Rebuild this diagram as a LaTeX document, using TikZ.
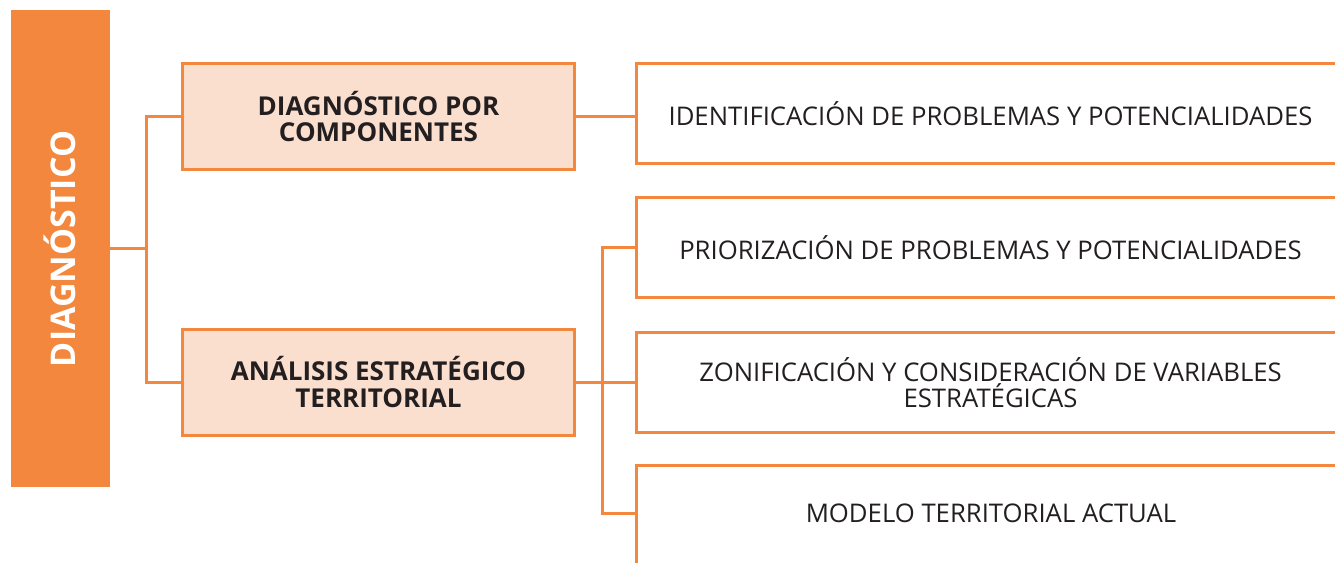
\documentclass[tikz,border=0pt]{standalone}
\usepackage{fontspec}
\setmainfont{Open Sans}
\definecolor{orng}{HTML}{F3873D}
\definecolor{peach}{HTML}{FADFCF}
\definecolor{ink}{HTML}{231F20}
\begin{document}
\begin{tikzpicture}[x=1pt,y=1pt,
  conn/.style={draw=orng,line width=3pt},
  leftbox/.style={draw=orng,fill=peach,line width=3pt,minimum width=392pt,minimum height=106pt,align=center,font=\fontsize{26}{26.5}\selectfont\bfseries,text=ink,inner sep=0pt},
  rightbox/.style={draw=orng,fill=white,line width=3pt,minimum width=720pt,minimum height=100pt,align=center,font=\fontsize{25.7}{26.5}\selectfont,text=ink,inner sep=0pt}]
\useasboundingbox (0,0) rectangle (1335,-562);
\clip (0,0) rectangle (1335,-562);
\node[fill=orng,minimum width=99pt,minimum height=477pt,inner sep=0pt] (bar) at (60.5,-248.5) {};
\node[rotate=90,text=white,font=\fontsize{34}{36}\selectfont\bfseries] (bartxt) at (60,-249) {DIAGNÓSTICO};
\node[leftbox] (dpc) at (378.5,-116.5) {DIAGNÓSTICO POR\\COMPONENTES};
\node[leftbox] (aet) at (378.5,-382) {ANÁLISIS ESTRATÉGICO\\TERRITORIAL};
\node[rightbox] (r1) at (996.5,-113.5) {\hspace*{-12pt}IDENTIFICACIÓN DE PROBLEMAS Y POTENCIALIDADES};
\node[rightbox] (r2) at (996.5,-247.5) {\hspace*{-12pt}PRIORIZACIÓN DE PROBLEMAS Y POTENCIALIDADES};
\node[rightbox] (r3) at (996.5,-382.5) {\hspace*{-12pt}ZONIFICACIÓN Y CONSIDERACIÓN DE VARIABLES\\\hspace*{-12pt}ESTRATÉGICAS};
\node[rightbox,anchor=north,minimum height=140pt] (r4) at (996.5,-463.5) {};
\node[font=\fontsize{25.7}{26.5}\selectfont,text=ink,inner sep=0pt] (r4t) at (991,-513.5) {MODELO TERRITORIAL ACTUAL};
\coordinate (j1) at (146,-248.5);
\coordinate (j2) at (602,-382);
\draw[conn] (bar.east) -- (j1);
\draw[conn] (j1) |- (dpc.west);
\draw[conn] (j1) |- (aet.west);
\draw[conn] (dpc.east) -- (dpc.east -| r1.west);
\draw[conn] (aet.east) -- (j2);
\draw[conn] (j2) |- (r2.west);
\draw[conn] (j2) -- (j2 -| r3.west);
\draw[conn] (j2) |- (r4t.west -| j2) -- (r4t.west -| r4.west);
\end{tikzpicture}
\end{document}
